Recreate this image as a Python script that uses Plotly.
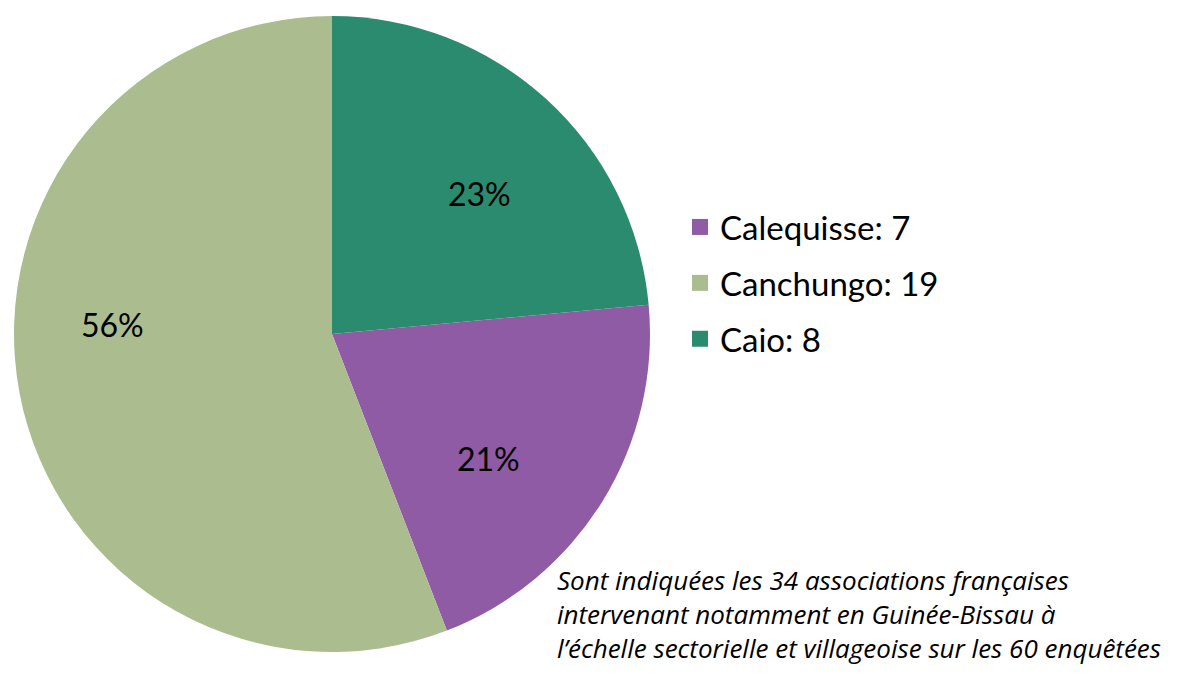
import plotly.graph_objects as go

# Associations françaises par secteur (Guinée-Bissau)
sectors = ["Calequisse", "Canchungo", "Caio"]
counts = [7, 19, 8]
pct_labels = ["21%", "56%", "23%"]
colors = ["#8e5ba4", "#abbd8f", "#2a8b6e"]

note = ("Sont indiquées les 34 associations françaises<br>"
        "intervenant notamment en Guinée-Bissau à<br>"
        "l’échelle sectorielle et villageoise sur les 60 enquêtées")

FONT = "Lato, 'Noto Sans', sans-serif"
W, H = 1195, 677
TOP, BOTTOM = 8, 33
PH = H - TOP - BOTTOM
PAGE_OFF = 8  # default body margin of the html page


def px(x, y):
    # screenshot pixel position -> paper coordinates
    x, y = x - PAGE_OFF, y - PAGE_OFF
    return x / W, (H - BOTTOM - y) / PH


fig = go.Figure()

fig.add_trace(go.Pie(
    labels=sectors,
    values=counts,
    textinfo="none",
    marker=dict(colors=colors, line=dict(width=0)),
    sort=False,
    direction="clockwise",
    rotation=360 * counts[2] / sum(counts),
    domain=dict(x=[6 / W, 642 / W], y=[0, 1]),
    showlegend=False,
    hoverinfo="label+value+percent",
))

# legend entries drawn as empty scatter traces so the row spacing can be set
for i, (name, n, c) in enumerate(zip(sectors, counts, colors)):
    fig.add_trace(go.Scatter(
        x=[None], y=[None],
        mode="markers",
        marker=dict(symbol="square", size=16, color=c),
        name=f"{name}: {n}",
        legendgroup=f"g{i}",
        showlegend=True,
    ))

# percentage labels placed like the original (not at the exact mid-angle)
label_pos = [(488, 458), (113, 325), (479, 193)]
annotations = []
for txt, (lx, ly) in zip(pct_labels, label_pos):
    ax, ay = px(lx, ly)
    annotations.append(dict(
        text=txt, x=ax, y=ay, xref="paper", yref="paper",
        xanchor="center", yanchor="middle", showarrow=False,
        font=dict(family=FONT, size=32, color="black"),
    ))

nx, ny = px(555, 560)
annotations.append(dict(
    text=note,
    x=nx, xanchor="left",
    y=ny, yanchor="top",
    xref="paper", yref="paper",
    showarrow=False,
    align="left",
    font=dict(family="'Open Sans', sans-serif", size=26, color="black",
              style="italic"),
))

lx, ly = px(680, 199)
fig.update_layout(
    width=W, height=H,
    margin=dict(l=0, r=0, t=TOP, b=BOTTOM),
    paper_bgcolor="white",
    plot_bgcolor="white",
    font=dict(family=FONT, color="black"),
    xaxis=dict(visible=False),
    yaxis=dict(visible=False),
    legend=dict(
        x=lx, xanchor="left",
        y=ly, yanchor="top",
        font=dict(family=FONT, size=33, color="black"),
        tracegroupgap=10,
        bgcolor="rgba(0,0,0,0)",
    ),
    annotations=annotations,
)

fig.write_html("out.html")
